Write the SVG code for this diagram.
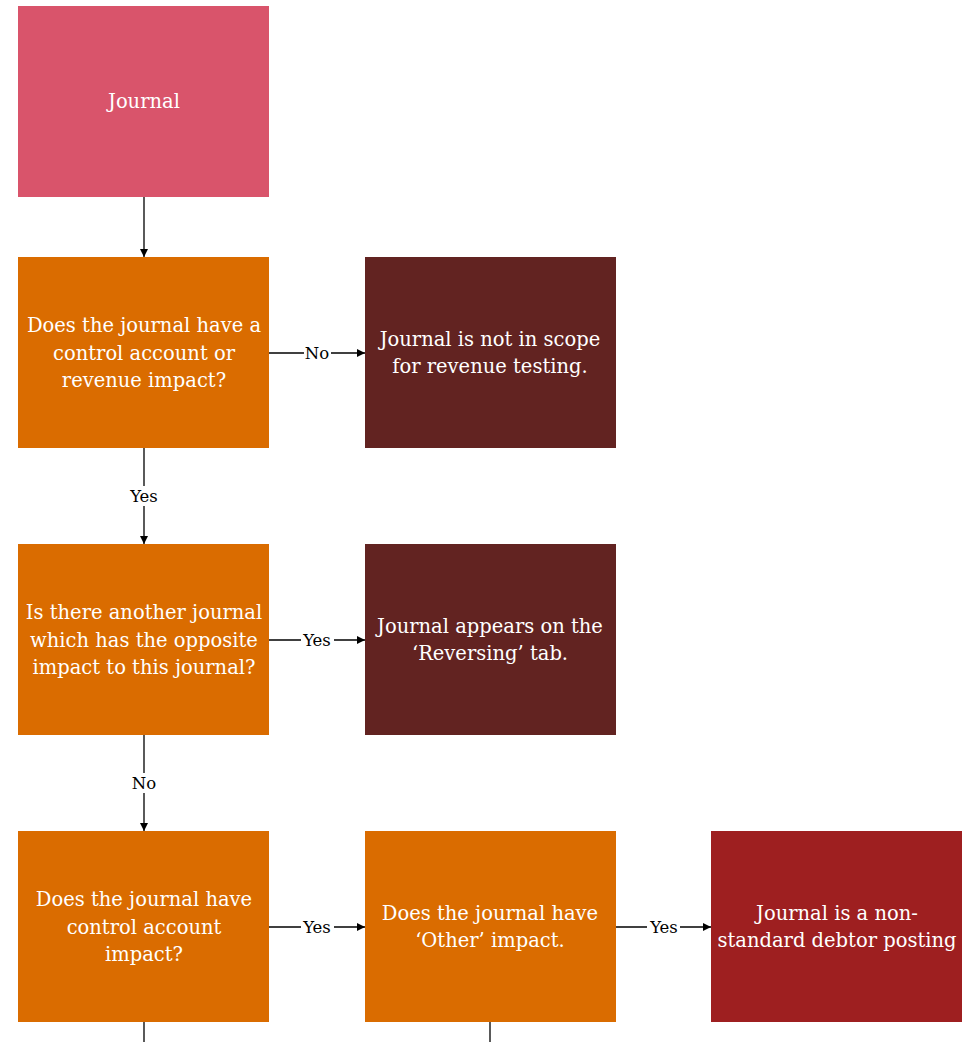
<svg xmlns="http://www.w3.org/2000/svg" width="963" height="1042" viewBox="0 0 963 1042">
<style>
.t{font-family:"DejaVu Serif","Liberation Serif",serif;font-size:19.5px;fill:#fff;text-anchor:middle;dominant-baseline:central}
.l{font-family:"DejaVu Serif","Liberation Serif",serif;font-size:16.5px;fill:#000;text-anchor:middle;dominant-baseline:central}
.c{stroke:#000;stroke-width:1.3;fill:none}
.bg{fill:#fff}
</style>
<defs>
<marker id="a" viewBox="0 0 10 10" refX="10" refY="5" markerWidth="8" markerHeight="8" markerUnits="userSpaceOnUse" orient="auto"><path d="M0,0L10,5L0,10z" fill="#000"/></marker>
</defs>
<g id="connectors">
<path class="c" d="M144,197V257" marker-end="url(#a)"/>
<path class="c" d="M269,353H365" marker-end="url(#a)"/>
<path class="c" d="M144,448V544" marker-end="url(#a)"/>
<path class="c" d="M269,640H365" marker-end="url(#a)"/>
<path class="c" d="M144,735V831" marker-end="url(#a)"/>
<path class="c" d="M269,927H365" marker-end="url(#a)"/>
<path class="c" d="M616,927H711" marker-end="url(#a)"/>
<path class="c" d="M144,1022V1042"/>
<path class="c" d="M490,1022V1042"/>
<rect class="bg" x="304" y="343" width="27" height="20"/><text class="l" x="317" y="353">No</text>
<rect class="bg" x="127" y="486" width="34" height="20"/><text class="l" x="144" y="496">Yes</text>
<rect class="bg" x="301" y="630" width="33" height="20"/><text class="l" x="317" y="640">Yes</text>
<rect class="bg" x="130" y="773" width="28" height="20"/><text class="l" x="144" y="783">No</text>
<rect class="bg" x="301" y="917" width="33" height="20"/><text class="l" x="317" y="927">Yes</text>
<rect class="bg" x="647" y="917" width="33" height="20"/><text class="l" x="664" y="927">Yes</text>
</g>
<g id="n1"><rect x="18" y="6" width="251" height="191" fill="#D9546B"/><text class="t" x="144" y="101">Journal</text></g>
<g id="n2"><rect x="18" y="257" width="251" height="191" fill="#DA6C00"/><text class="t" x="144" y="325">Does the journal have a</text><text class="t" x="144" y="353">control account or</text><text class="t" x="144" y="380">revenue impact?</text></g>
<g id="n3"><rect x="365" y="257" width="251" height="191" fill="#622321"/><text class="t" x="490" y="339">Journal is not in scope</text><text class="t" x="490" y="366">for revenue testing.</text></g>
<g id="n4"><rect x="18" y="544" width="251" height="191" fill="#DA6C00"/><text class="t" x="144" y="612">Is there another journal</text><text class="t" x="144" y="640">which has the opposite</text><text class="t" x="144" y="667">impact to this journal?</text></g>
<g id="n5"><rect x="365" y="544" width="251" height="191" fill="#622321"/><text class="t" x="490" y="626">Journal appears on the</text><text class="t" x="490" y="653">‘Reversing’ tab.</text></g>
<g id="n6"><rect x="18" y="831" width="251" height="191" fill="#DA6C00"/><text class="t" x="144" y="899">Does the journal have</text><text class="t" x="144" y="927">control account</text><text class="t" x="144" y="954">impact?</text></g>
<g id="n7"><rect x="365" y="831" width="251" height="191" fill="#DA6C00"/><text class="t" x="490" y="913">Does the journal have</text><text class="t" x="490" y="940">‘Other’ impact.</text></g>
<g id="n8"><rect x="711" y="831" width="251" height="191" fill="#9E1F20"/><text class="t" x="837" y="913">Journal is a non-</text><text class="t" x="837" y="940">standard debtor posting</text></g>
</svg>
